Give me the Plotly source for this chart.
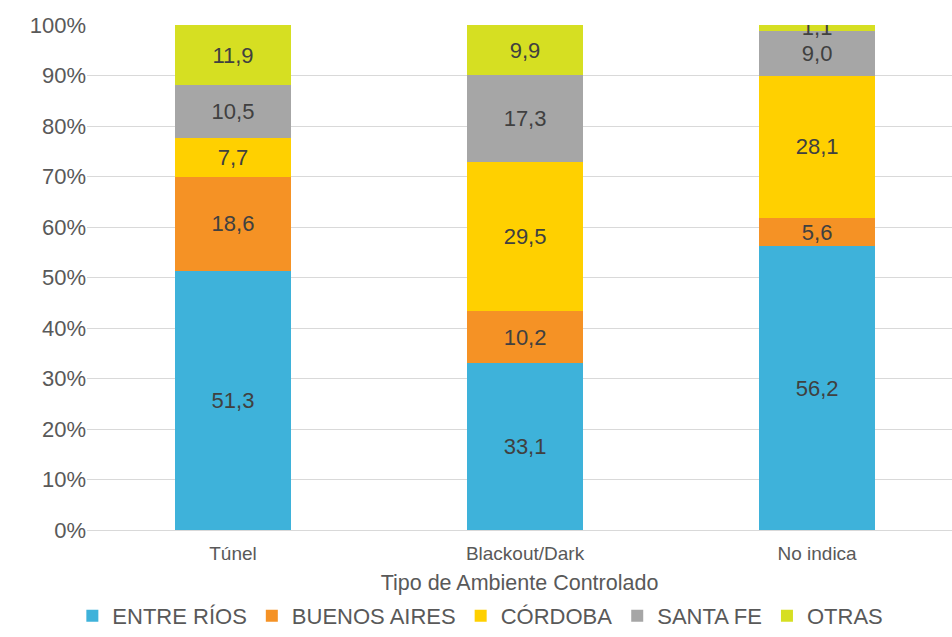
import plotly.graph_objects as go

categories = ["Túnel", "Blackout/Dark", "No indica"]
series_names = ["ENTRE RÍOS", "BUENOS AIRES", "CÓRDOBA", "SANTA FE", "OTRAS"]
entre_rios = [51.3, 33.1, 56.2]
buenos_aires = [18.6, 10.2, 5.6]
cordoba = [7.7, 29.5, 28.1]
santa_fe = [10.5, 17.3, 9.0]
otras = [11.9, 9.9, 1.1]
y_ticks = [0, 10, 20, 30, 40, 50, 60, 70, 80, 90, 100]
y_tick_labels = [f"{v}%" for v in y_ticks]

series_values = [entre_rios, buenos_aires, cordoba, santa_fe, otras]
colors = ["#3eb2da", "#f59225", "#ffd000", "#a6a6a6", "#d6df22"]
FONT = "Liberation Sans, Arial, sans-serif"

fig = go.Figure()
for name, vals, col in zip(series_names, series_values, colors):
    fig.add_trace(go.Bar(
        x=categories, y=vals, name=name,
        marker=dict(color=col, line=dict(width=0)),
        text=[f"{v:.1f}".replace(".", ",") for v in vals],
        textposition="inside", insidetextanchor="middle", textangle=0,
        textfont=dict(family=FONT, size=22, color="#404040"),
        width=0.4, hoverinfo="skip",
    ))

fig.update_layout(
    barmode="stack",
    width=952, height=637,
    margin=dict(l=87, r=0, t=25, b=107),
    paper_bgcolor="white", plot_bgcolor="white",
    font=dict(family=FONT, color="#595959"),
    uniformtext=dict(minsize=22, mode="show"),
    showlegend=True,
    legend=dict(orientation="h", xref="container", x=0.076, xanchor="left",
                yref="container", y=-0.012, yanchor="bottom",
                font=dict(family=FONT, size=22, color="#595959"),
                traceorder="normal", itemclick=False),
    xaxis=dict(range=[-0.5, 2.462], showgrid=False, showline=True, linecolor="#d9d9d9", linewidth=1,
               ticks="", ticklabelstandoff=6, tickfont=dict(size=19, color="#595959"),
               title=dict(text="Tipo de Ambiente Controlado", font=dict(size=21.5, color="#595959"), standoff=15)),
    yaxis=dict(range=[0, 100], tickvals=y_ticks, ticktext=y_tick_labels, showgrid=True, gridcolor="#d9d9d9",
               gridwidth=1, zeroline=False, ticks="", tickfont=dict(size=22, color="#595959")),
)

fig.write_html("out.html", config={"displayModeBar": False},
               post_script="document.body.style.margin='0';document.body.style.overflow='hidden';")
